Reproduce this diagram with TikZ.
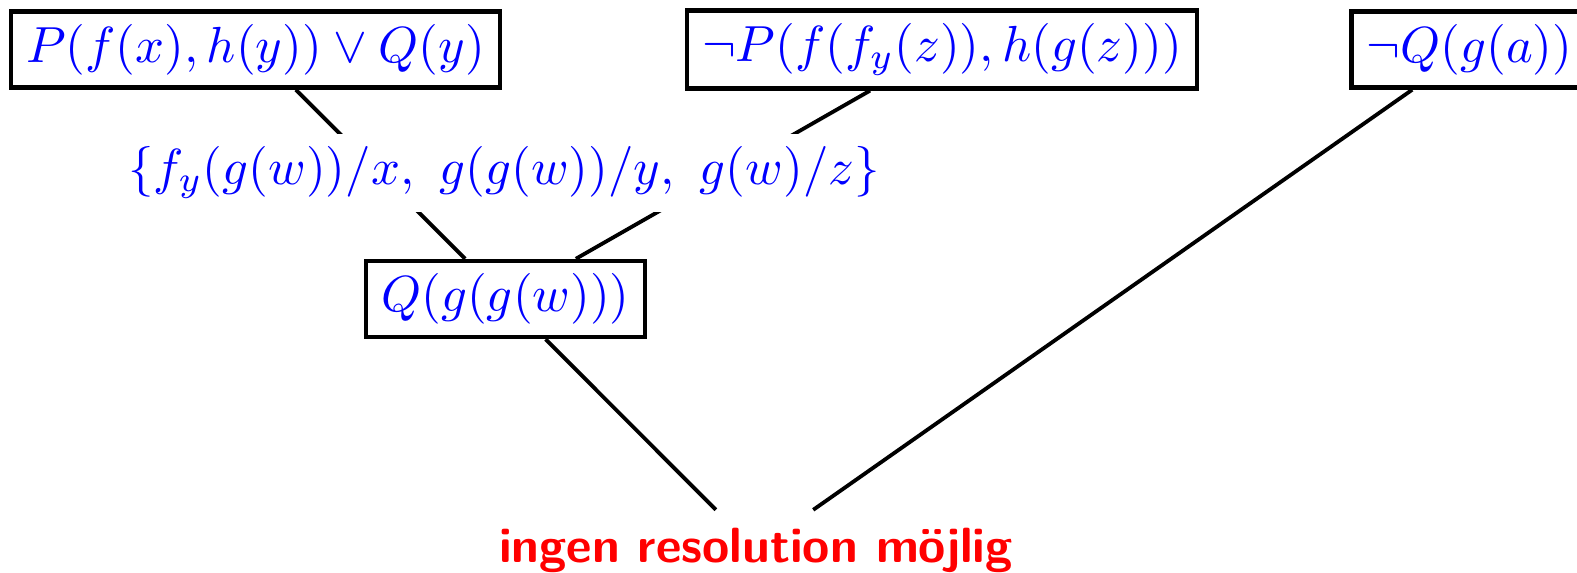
\documentclass[tikz,border=0pt]{standalone}
\usepackage{xcolor}
\usepackage{tikz}
\usepackage{amsmath}
\definecolor{resblue}{HTML}{0000FF}
\definecolor{resred}{HTML}{FF0000}

\begin{document}
\begin{tikzpicture}[x=0.197pt,y=-0.197pt,
  clause/.style={draw,line width=0.85pt,text=resblue,inner xsep=3pt,inner ysep=2.5pt},
  link/.style={line width=0.75pt}]
  \useasboundingbox (0,0) rectangle (1577,572);
  \node[clause] (c1) at (255.5,49.5) {$P(f(x),h(y))\vee Q(y)$};
  \node[clause] (c2) at (942,49.5) {$\neg P(f(f_y(z)),h(g(z)))$};
  \node[clause] (c3) at (1469.5,49.5) {$\neg Q(g(a))$};
  \node[clause] (r1) at (505.5,299) {$Q(g(g(w)))$};
  \node[text=resred,font=\fontsize{9.75}{12}\sffamily\bfseries] (r2) at (756,550) {ingen resolution möjlig};
  \draw[link] (c1) -- (r1);
  \draw[link] (c2) -- (r1);
  \draw[link] (r1) -- (r2);
  \draw[link] (c3) -- (r2);
  \node[fill=white,text=resblue,inner ysep=2.5pt] (mgu) at (504,172.5) {$\{f_y(g(w))/x,\ g(g(w))/y,\ g(w)/z\}$};
\end{tikzpicture}
\end{document}
